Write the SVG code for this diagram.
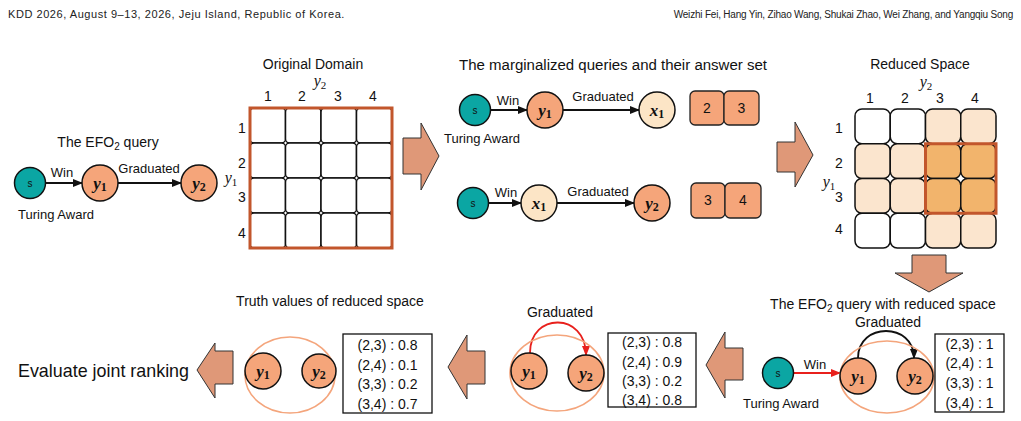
<svg xmlns="http://www.w3.org/2000/svg" width="1021" height="421" viewBox="0 0 1021 421">
<style>
text{font-family:"Liberation Sans",Arial,sans-serif;fill:#111}
.hd{font-family:"Liberation Sans",Arial,sans-serif;fill:#222}
.t{font-size:14px}
.lb{font-size:13px}
.n{font-size:14px;text-anchor:middle}
.m{font-family:"Liberation Serif",serif;font-weight:bold;font-style:italic;font-size:17px;text-anchor:middle}
.sb{font-style:normal;font-size:12px}
.ax{font-family:"Liberation Serif",serif;font-style:italic;font-size:16px;text-anchor:middle}
.axs{font-style:normal;font-size:11px}
.s{fill:#0BA6A3;stroke:#111;stroke-width:1.5}
.y{fill:#F5A57A;stroke:#111;stroke-width:1.5}
.x{fill:#FCE5C6;stroke:#111;stroke-width:1.5}
.st{font-size:10px;text-anchor:middle}
.e{stroke:#111;stroke-width:1.8;fill:none}
.er{stroke:#E8201C;stroke-width:1.8;fill:none}
.blk{fill:#DF9878;stroke:#333;stroke-width:1}
.ans{fill:#F5A57A;stroke:#222;stroke-width:1.3}
.cw{fill:#fff;stroke:#111;stroke-width:1.5}
.cl{fill:#FBE5CE;stroke:#111;stroke-width:1.5}
.cd{fill:#F2B46C;stroke:#111;stroke-width:1.5}
.ol{fill:none;stroke:#C2562C;stroke-width:3}
.el{fill:none;stroke:#F4A57C;stroke-width:1.6}
.bx{fill:#fff;stroke:#111;stroke-width:1.3}
.tv{font-size:14px;text-anchor:middle}
</style>
<defs>
<marker id="ah" markerWidth="10" markerHeight="8" refX="9" refY="4" orient="auto" markerUnits="userSpaceOnUse"><path d="M0,0 L10,4 L0,8 Z" fill="#111"/></marker>
<marker id="ahr" markerWidth="10" markerHeight="8" refX="9" refY="4" orient="auto" markerUnits="userSpaceOnUse"><path d="M0,0 L10,4 L0,8 Z" fill="#E8201C"/></marker>
</defs>
<rect width="1021" height="421" fill="#fff"/>

<g id="header">
<text class="hd" x="8" y="18" style="font-size:11px" letter-spacing="0.55">KDD 2026, August 9–13, 2026, Jeju Island, Republic of Korea.</text>
<text class="hd" x="1013" y="18" text-anchor="end" style="font-size:10px" letter-spacing="-0.2">Weizhi Fei, Hang Yin, Zihao Wang, Shukai Zhao, Wei Zhang, and Yangqiu Song</text>
</g>

<g id="connectors">
<line class="e" x1="46" y1="183" x2="82" y2="183" marker-end="url(#ah)"/>
<line class="e" x1="118" y1="183" x2="181" y2="183" marker-end="url(#ah)"/>
<line class="e" x1="490" y1="110" x2="527" y2="110" marker-end="url(#ah)"/>
<line class="e" x1="563" y1="110" x2="639" y2="110" marker-end="url(#ah)"/>
<line class="e" x1="488" y1="203" x2="521" y2="203" marker-end="url(#ah)"/>
<line class="e" x1="557" y1="203" x2="634" y2="203" marker-end="url(#ah)"/>
<line class="er" x1="794" y1="373" x2="840" y2="373" marker-end="url(#ahr)"/>
<path class="e" d="M858,358 C858,322 914,322 914,358" marker-end="url(#ah)"/>
<path class="er" d="M530,353 C530,312 586,312 586,355" marker-end="url(#ahr)"/>
</g>

<g id="efo-query">
<text class="t" x="108" y="147" text-anchor="middle">The EFO<tspan font-size="10" dy="3">2</tspan><tspan dy="-3"> query</tspan></text>
<text class="lb" x="62" y="177" text-anchor="middle">Win</text>
<text class="lb" x="149" y="173" text-anchor="middle">Graduated</text>
<text class="lb" x="56" y="219" text-anchor="middle">Turing Award</text>
</g>
<g id="q-s"><circle class="s" cx="30" cy="183" r="15.5"/><text class="st" x="30" y="187">s</text></g>
<g id="q-y1"><circle class="y" cx="100" cy="183" r="18"/><text class="m" x="100" y="189">y<tspan class="sb" dy="2">1</tspan></text></g>
<g id="q-y2"><circle class="y" cx="199" cy="183" r="18"/><text class="m" x="199" y="189">y<tspan class="sb" dy="2">2</tspan></text></g>

<g id="original-domain">
<text class="t" x="313" y="69" text-anchor="middle">Original Domain</text>
<text class="ax" x="320" y="86">y<tspan class="axs" dy="3">2</tspan></text>
<text class="n" x="268" y="101">1</text><text class="n" x="302" y="101">2</text><text class="n" x="338" y="101">3</text><text class="n" x="373" y="101">4</text>
<text class="n" x="242" y="133">1</text><text class="n" x="242" y="168">2</text><text class="n" x="242" y="202">3</text><text class="n" x="242" y="238">4</text>
<text class="ax" x="231" y="183">y<tspan class="axs" dy="3">1</tspan></text>
<rect class="cw" x="250" y="108" width="35.5" height="35" rx="4"/><rect class="cw" x="285.5" y="108" width="35.5" height="35" rx="4"/><rect class="cw" x="321" y="108" width="35.5" height="35" rx="4"/><rect class="cw" x="356.5" y="108" width="35.5" height="35" rx="4"/>
<rect class="cw" x="250" y="143" width="35.5" height="35" rx="4"/><rect class="cw" x="285.5" y="143" width="35.5" height="35" rx="4"/><rect class="cw" x="321" y="143" width="35.5" height="35" rx="4"/><rect class="cw" x="356.5" y="143" width="35.5" height="35" rx="4"/>
<rect class="cw" x="250" y="178" width="35.5" height="35" rx="4"/><rect class="cw" x="285.5" y="178" width="35.5" height="35" rx="4"/><rect class="cw" x="321" y="178" width="35.5" height="35" rx="4"/><rect class="cw" x="356.5" y="178" width="35.5" height="35" rx="4"/>
<rect class="cw" x="250" y="213" width="35.5" height="35" rx="4"/><rect class="cw" x="285.5" y="213" width="35.5" height="35" rx="4"/><rect class="cw" x="321" y="213" width="35.5" height="35" rx="4"/><rect class="cw" x="356.5" y="213" width="35.5" height="35" rx="4"/>
<rect class="ol" x="250" y="108" width="142" height="140"/>
</g>

<g id="arrow-1"><path class="blk" d="M403,138 L421,138 L421,123 L439,156 L421,190 L421,174 L403,174 Z"/></g>

<g id="marginalized">
<text class="t" x="613" y="70" text-anchor="middle" textLength="308" lengthAdjust="spacingAndGlyphs">The marginalized queries and their answer set</text>
<text class="lb" x="508" y="105" text-anchor="middle">Win</text>
<text class="lb" x="603" y="101" text-anchor="middle">Graduated</text>
<text class="lb" x="482" y="143" text-anchor="middle">Turing Award</text>
<text class="lb" x="506" y="197" text-anchor="middle">Win</text>
<text class="lb" x="598" y="196" text-anchor="middle">Graduated</text>
</g>
<g id="m1-s"><circle class="s" cx="475" cy="110" r="15.5"/><text class="st" x="475" y="114">s</text></g>
<g id="m1-y1"><circle class="y" cx="545" cy="110" r="18"/><text class="m" x="545" y="116">y<tspan class="sb" dy="2">1</tspan></text></g>
<g id="m1-x1"><circle class="x" cx="657" cy="110" r="18"/><text class="m" x="657" y="116">x<tspan class="sb" dy="2">1</tspan></text></g>
<g id="m1-ans"><rect class="ans" x="690" y="91" width="34" height="34" rx="5"/><rect class="ans" x="724" y="91" width="35" height="34" rx="5"/><text class="n" x="707" y="113">2</text><text class="n" x="741.5" y="113">3</text></g>
<g id="m2-s"><circle class="s" cx="473" cy="203" r="15.5"/><text class="st" x="473" y="207">s</text></g>
<g id="m2-x1"><circle class="x" cx="539" cy="203" r="18"/><text class="m" x="539" y="209">x<tspan class="sb" dy="2">1</tspan></text></g>
<g id="m2-y2"><circle class="y" cx="652" cy="203" r="18"/><text class="m" x="652" y="209">y<tspan class="sb" dy="2">2</tspan></text></g>
<g id="m2-ans"><rect class="ans" x="691" y="183" width="34" height="35" rx="5"/><rect class="ans" x="725" y="183" width="36" height="35" rx="5"/><text class="n" x="708" y="205">3</text><text class="n" x="743" y="205">4</text></g>

<g id="arrow-2"><path class="blk" d="M777,142 L795,142 L795,122 L813,155 L795,187 L795,172 L777,172 Z"/></g>

<g id="reduced-space">
<text class="t" x="920" y="69" text-anchor="middle">Reduced Space</text>
<text class="ax" x="926" y="87">y<tspan class="axs" dy="3">2</tspan></text>
<text class="n" x="870" y="103">1</text><text class="n" x="905" y="103">2</text><text class="n" x="940" y="103">3</text><text class="n" x="975" y="103">4</text>
<text class="n" x="839" y="133">1</text><text class="n" x="839" y="168">2</text><text class="n" x="839" y="202">3</text><text class="n" x="839" y="234">4</text>
<text class="ax" x="829" y="187">y<tspan class="axs" dy="3">1</tspan></text>
<rect class="cw" x="855" y="109" width="35.25" height="34.75" rx="7"/><rect class="cw" x="890.25" y="109" width="35.25" height="34.75" rx="7"/><rect class="cl" x="925.5" y="109" width="35.25" height="34.75" rx="7"/><rect class="cl" x="960.75" y="109" width="35.25" height="34.75" rx="7"/>
<rect class="cl" x="855" y="143.75" width="35.25" height="34.75" rx="7"/><rect class="cl" x="890.25" y="143.75" width="35.25" height="34.75" rx="7"/><rect class="cd" x="925.5" y="143.75" width="35.25" height="34.75" rx="7"/><rect class="cd" x="960.75" y="143.75" width="35.25" height="34.75" rx="7"/>
<rect class="cl" x="855" y="178.5" width="35.25" height="34.75" rx="7"/><rect class="cl" x="890.25" y="178.5" width="35.25" height="34.75" rx="7"/><rect class="cd" x="925.5" y="178.5" width="35.25" height="34.75" rx="7"/><rect class="cd" x="960.75" y="178.5" width="35.25" height="34.75" rx="7"/>
<rect class="cw" x="855" y="213.25" width="35.25" height="34.75" rx="7"/><rect class="cw" x="890.25" y="213.25" width="35.25" height="34.75" rx="7"/><rect class="cl" x="925.5" y="213.25" width="35.25" height="34.75" rx="7"/><rect class="cl" x="960.75" y="213.25" width="35.25" height="34.75" rx="7"/>
<rect class="ol" x="925.5" y="143.75" width="70.5" height="69.5"/>
</g>

<g id="arrow-3"><path class="blk" d="M912,255 L946,255 L946,273 L963,273 L929,292 L895,273 L912,273 Z"/></g>

<g id="efo-reduced">
<text class="t" x="883" y="309" text-anchor="middle">The EFO<tspan font-size="10" dy="3">2</tspan><tspan dy="-3"> query with reduced space</tspan></text>
<text class="t" x="888" y="327" text-anchor="middle">Graduated</text>
<text class="lb" x="815" y="369" text-anchor="middle">Win</text>
<text class="lb" x="781" y="408" text-anchor="middle">Turing Award</text>
<ellipse class="el" cx="887" cy="377" rx="47" ry="36"/>
</g>
<g id="r-s"><circle class="s" cx="778" cy="373" r="15.5"/><text class="st" x="778" y="377">s</text></g>
<g id="r-y1"><circle class="y" cx="858" cy="376" r="18"/><text class="m" x="858" y="382">y<tspan class="sb" dy="2">1</tspan></text></g>
<g id="r-y2"><circle class="y" cx="915" cy="376" r="18"/><text class="m" x="915" y="382">y<tspan class="sb" dy="2">2</tspan></text></g>
<g id="r-box"><rect class="bx" x="935" y="334" width="69" height="78"/>
<text class="tv" x="969.5" y="349">(2,3) : 1</text><text class="tv" x="969.5" y="368">(2,4) : 1</text><text class="tv" x="969.5" y="388">(3,3) : 1</text><text class="tv" x="969.5" y="408">(3,4) : 1</text></g>

<g id="arrow-4"><path class="blk" d="M743,348 L725,348 L725,332 L706,365 L725,398 L725,380 L743,380 Z"/></g>

<g id="scored">
<text class="t" x="560" y="317" text-anchor="middle">Graduated</text>
<ellipse class="el" cx="557" cy="373" rx="47" ry="38"/>
</g>
<g id="p-y1"><circle class="y" cx="529" cy="371" r="18"/><text class="m" x="529" y="377">y<tspan class="sb" dy="2">1</tspan></text></g>
<g id="p-y2"><circle class="y" cx="586" cy="373" r="18"/><text class="m" x="586" y="379">y<tspan class="sb" dy="2">2</tspan></text></g>
<g id="p-box"><rect class="bx" x="608" y="333" width="88" height="74"/>
<text class="tv" x="652" y="347">(2,3) : 0.8</text><text class="tv" x="652" y="367">(2,4) : 0.9</text><text class="tv" x="652" y="386">(3,3) : 0.2</text><text class="tv" x="652" y="405">(3,4) : 0.8</text></g>

<g id="arrow-5"><path class="blk" d="M485,351 L467,351 L467,335 L448,367 L467,399 L467,384 L485,384 Z"/></g>

<g id="truth">
<text class="t" x="330" y="306" text-anchor="middle">Truth values of reduced space</text>
<ellipse class="el" cx="290" cy="375" rx="45" ry="38"/>
</g>
<g id="t-y1"><circle class="y" cx="263" cy="371" r="18"/><text class="m" x="263" y="377">y<tspan class="sb" dy="2">1</tspan></text></g>
<g id="t-y2"><circle class="y" cx="319" cy="371" r="17"/><text class="m" x="319" y="377">y<tspan class="sb" dy="2">2</tspan></text></g>
<g id="t-box"><rect class="bx" x="343" y="334" width="89" height="79"/>
<text class="tv" x="387.5" y="350">(2,3) : 0.8</text><text class="tv" x="387.5" y="370">(2,4) : 0.1</text><text class="tv" x="387.5" y="389">(3,3) : 0.2</text><text class="tv" x="387.5" y="409">(3,4) : 0.7</text></g>

<g id="arrow-6"><path class="blk" d="M233,351 L215,351 L215,343 L197,370 L215,398 L215,384 L233,384 Z"/></g>

<g id="evaluate"><text x="18" y="377" font-size="19" textLength="171" lengthAdjust="spacingAndGlyphs">Evaluate joint ranking</text></g>
</svg>
